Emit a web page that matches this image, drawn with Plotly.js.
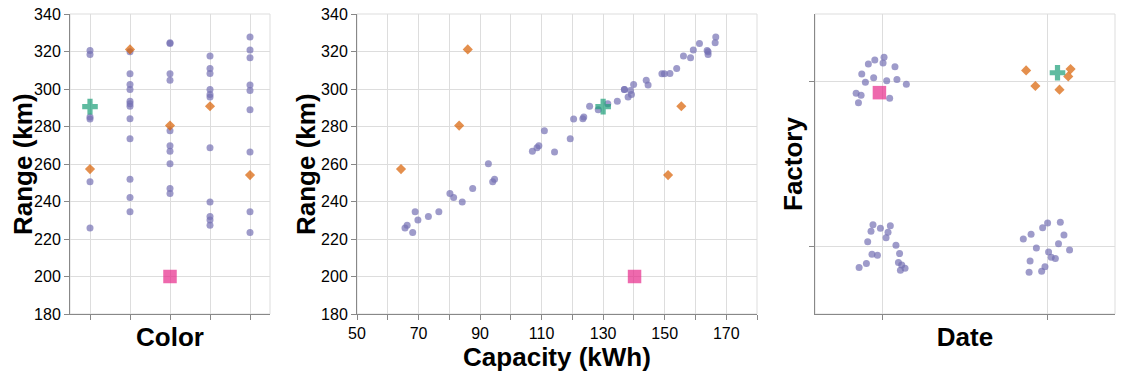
<!DOCTYPE html>
<html>
<head>
<meta charset="utf-8">
<script src="https://cdn.plot.ly/plotly-3.0.1.min.js"></script>
<style>
	html, body { margin: 0; padding: 0; background: #fff; }
	#chart { width: 1121px; height: 373px; }
</style>
</head>
<body>
<div id="chart"></div>
<script>
// regular cars: color index (0..4), range (km), capacity (kWh)
const car_color = [4, 0, 3, 3, 3, 1, 4, 3, 1, 2, 2, 0, 1, 2, 4, 2, 3, 2, 1, 2, 0, 1, 0, 4, 1, 1, 1, 3, 3, 4, 1, 3, 4, 1, 2, 1, 2, 3, 3, 4, 3, 0, 1, 0, 4, 2, 2, 4];
const car_range = [223.5, 225.9, 227.4, 230.2, 232.0, 234.5, 234.5, 239.7, 242.2, 244.3, 247.0, 250.6, 251.9, 260.2, 266.4, 266.8, 268.7, 269.8, 273.5, 277.8, 284.0, 284.2, 285.1, 289.0, 290.8, 292.1, 293.5, 295.8, 297.1, 299.2, 299.7, 299.8, 302.2, 302.4, 304.7, 308.1, 308.1, 308.3, 310.9, 316.7, 317.6, 318.4, 319.9, 320.6, 320.8, 324.3, 324.7, 327.7];
const car_capacity = [68.1, 65.6, 66.3, 69.8, 73.2, 68.9, 76.6, 84.2, 81.4, 80.2, 87.6, 94.1, 94.7, 92.7, 114.2, 107.0, 108.5, 109.1, 119.3, 110.9, 120.4, 123.4, 123.7, 128.4, 125.6, 131.5, 134.6, 138.1, 139.2, 138.9, 136.9, 136.9, 144.6, 139.9, 144.0, 149.1, 149.9, 151.7, 153.9, 158.4, 156.1, 164.1, 164.1, 163.8, 159.3, 161.3, 166.4, 166.6];

// odd cars (orange diamonds)
const odd_color = [0, 1, 2, 3, 4];
const odd_range = [257.3, 321.1, 280.5, 290.8, 254.1];
const odd_capacity = [64.3, 86.0, 83.2, 155.4, 151.1];

// the single green and pink cars
const green_color = [0], green_range = [290.6], green_capacity = [130.0];
const pink_color = [2], pink_range = [200.0], pink_capacity = [140.2];

// Date x Factory panel, jittered positions (date index, factory index)
const car_date_jit = [0.010, -0.046, -0.085, 0.004, 0.076, -0.125, -0.053, -0.103, 0.026, 0.088, 0.145, -0.159, -0.129, -0.145, 0.044,
	-0.057, 0.048, -0.012, -0.069, 0.034, 0.022, -0.089, 0.082, 0.104, -0.063, -0.030, 0.097, -0.097, -0.141, 0.117, 0.137, 0.109,
	1.000, 1.077, 0.970, 0.900, 1.099, 0.853, 1.066, 0.932, 1.006, 1.133, 1.022, 1.047, 0.894, 0.984, 0.888, 0.964];
const car_factory_jit = [1.143, 1.127, 1.102, 1.108, 1.086, 1.042, 1.020, 0.992, 1.002, 1.010, 0.980, 0.926, 0.914, 0.869, 0.896,
	0.134, 0.128, 0.113, 0.095, 0.089, 0.056, 0.032, 0.010, -0.040, -0.044, -0.050, -0.094, -0.100, -0.124, -0.108, -0.129, -0.141,
	0.145, 0.149, 0.116, 0.076, 0.072, 0.048, 0.020, -0.006, -0.030, -0.018, -0.062, -0.070, -0.084, -0.119, -0.152, -0.146];
const odd_date_jit = [0.870, 0.926, 1.072, 1.125, 1.139];
const odd_factory_jit = [1.064, 0.970, 0.948, 1.028, 1.072];
const green_date_jit = [1.060], green_factory_jit = [1.050];
const pink_date_jit = [-0.018], pink_factory_jit = [0.930];

const range_ticks = [180, 200, 220, 240, 260, 280, 300, 320, 340];
const capacity_ticks = [50, 60, 70, 80, 90, 100, 110, 120, 130, 140, 150, 160, 170, 180];
const capacity_labels = ['50', '', '70', '', '90', '', '110', '', '130', '', '150', '', '170', ''];

const W = 1121, H = 373;
const font_family = '"Liberation Sans", Arial, Helvetica, sans-serif';
const title_font = { family: font_family, size: 26, weight: 'bold', color: '#000' };

const styles = {
	car: { color: '#7570b3', symbol: 'circle', size: 7 },
	odd: { color: '#d95f02', symbol: 'diamond', size: 7.8 },
	green: { color: '#1b9e77', symbol: 'cross', size: 13 },
	pink: { color: '#e7298a', symbol: 'square', size: 13.5 }
};

function make_trace(xs, ys, style, xa, ya) {
	return {
		type: 'scatter', mode: 'markers', x: xs, y: ys, xaxis: xa, yaxis: ya,
		hoverinfo: 'skip',
		marker: { color: style.color, symbol: style.symbol, size: style.size, opacity: 0.7, line: { width: 0 } }
	};
}

function base_axis(extra) {
	return Object.assign({
		showline: true, linecolor: '#888', linewidth: 1,
		ticks: 'outside', ticklen: 5, tickcolor: '#888', tickwidth: 1,
		showgrid: true, gridcolor: '#ddd', gridwidth: 1,
		zeroline: false, fixedrange: true,
		tickfont: { family: font_family, size: 16, color: '#000' }
	}, extra);
}

function axis_title(text, standoff) {
	return { text: text, standoff: standoff, font: title_font };
}

// y titles as rotated annotations, so they sit close to the labels
function y_title(text, x_px) {
	return {
		text: text, xref: 'paper', yref: 'paper', x: x_px / W, y: (H - 164) / H,
		xanchor: 'center', yanchor: 'middle', textangle: -90, showarrow: false, font: title_font
	};
}

const data = [
	make_trace(car_color, car_range, styles.car, 'x', 'y'),
	make_trace(odd_color, odd_range, styles.odd, 'x', 'y'),
	make_trace(pink_color, pink_range, styles.pink, 'x', 'y'),
	make_trace(green_color, green_range, styles.green, 'x', 'y'),

	make_trace(car_capacity, car_range, styles.car, 'x2', 'y2'),
	make_trace(odd_capacity, odd_range, styles.odd, 'x2', 'y2'),
	make_trace(pink_capacity, pink_range, styles.pink, 'x2', 'y2'),
	make_trace(green_capacity, green_range, styles.green, 'x2', 'y2'),

	make_trace(car_date_jit, car_factory_jit, styles.car, 'x3', 'y3'),
	make_trace(odd_date_jit, odd_factory_jit, styles.odd, 'x3', 'y3'),
	make_trace(pink_date_jit, pink_factory_jit, styles.pink, 'x3', 'y3'),
	make_trace(green_date_jit, green_factory_jit, styles.green, 'x3', 'y3')
];

const y_dom = [59 / H, 359 / H];

function frame(xa, ya) {
	return {
		type: 'rect', xref: xa + ' domain', yref: ya + ' domain', x0: 0, x1: 1, y0: 0, y1: 1,
		line: { color: '#ddd', width: 1 }, layer: 'below'
	};
}

const layout = {
	width: W, height: H,
	margin: { l: 0, r: 0, t: 0, b: 0 },
	paper_bgcolor: '#fff', plot_bgcolor: '#fff',
	showlegend: false,
	xaxis: base_axis({ domain: [70 / W, 270 / W], anchor: 'y', range: [-0.5, 4.5], tickvals: [0, 1, 2, 3, 4], showticklabels: false, title: axis_title('Color', 8) }),
	yaxis: base_axis({ domain: y_dom, anchor: 'x', range: [180, 340], tickvals: range_ticks }),
	xaxis2: base_axis({ domain: [357 / W, 757 / W], anchor: 'y2', range: [50, 180], tickvals: capacity_ticks, ticktext: capacity_labels, title: axis_title('Capacity (kWh)', 1) }),
	yaxis2: base_axis({ domain: y_dom, anchor: 'x2', range: [180, 340], tickvals: range_ticks }),
	xaxis3: base_axis({ domain: [815 / W, 1115 / W], anchor: 'y3', range: [-0.408, 1.408], tickvals: [0, 1], showticklabels: false, title: axis_title('Date', 8) }),
	yaxis3: base_axis({ domain: y_dom, anchor: 'x3', range: [-0.404, 1.404], tickvals: [0, 1], showticklabels: false }),
	annotations: [y_title('Range (km)', 23), y_title('Range (km)', 306), y_title('Factory', 793)],
	shapes: [frame('x', 'y'), frame('x2', 'y2'), frame('x3', 'y3')]
};

Plotly.newPlot('chart', data, layout, { staticPlot: true, displayModeBar: false });
</script>
</body>
</html>
